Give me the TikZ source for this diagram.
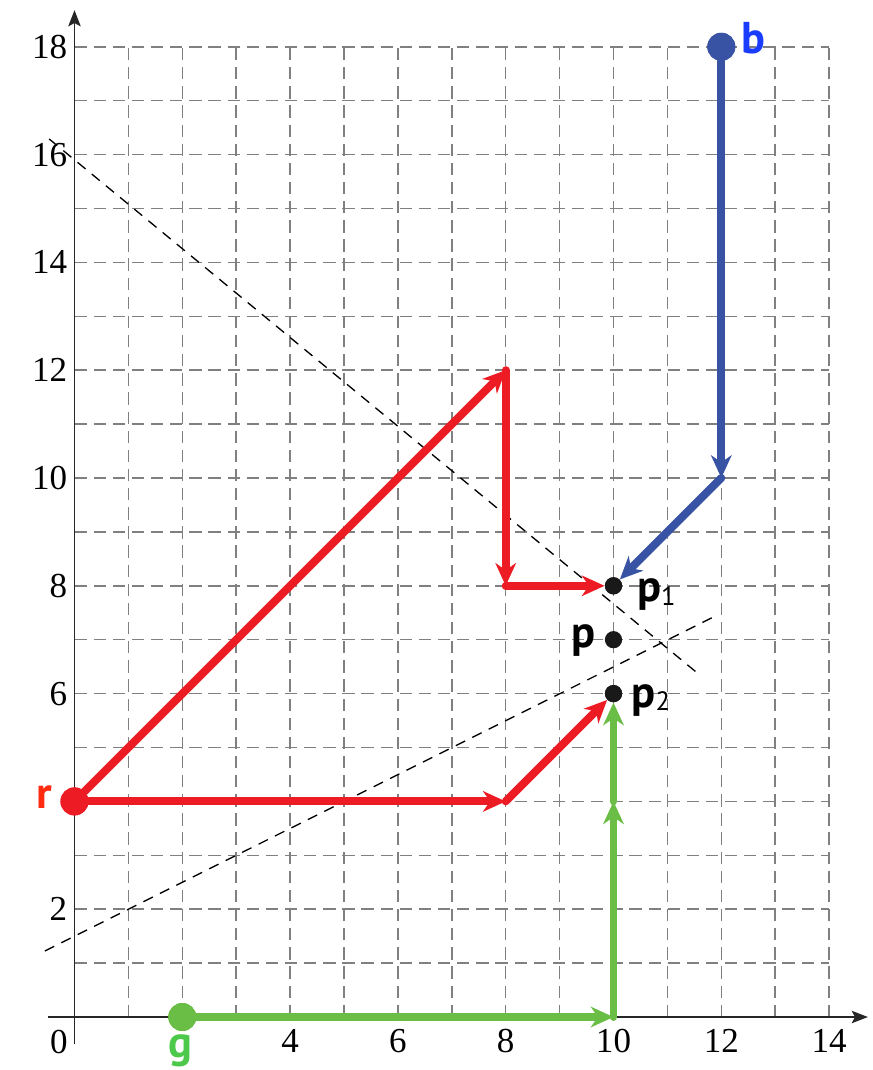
\documentclass[tikz,border=0pt]{standalone}
\usepackage{fontspec}
\setmainfont{Liberation Serif}
\newfontfamily\lblfont{PT Sans}
\usetikzlibrary{arrows.meta}
\definecolor{cred}{HTML}{ED1C24}
\definecolor{cblue}{HTML}{3953A4}
\definecolor{cgreen}{HTML}{6ABD45}
\definecolor{tred}{HTML}{FF2A10}
\definecolor{tblue}{HTML}{1A3CFF}
\definecolor{tgreen}{HTML}{4CC84A}
\definecolor{gridgray}{HTML}{808080}
\newcommand{\lowsub}[1]{\raisebox{-0.08em}{\mdseries\fontsize{14}{14}\selectfont #1}}
\tikzset{
  gridline/.style={draw=gridgray, line width=0.8pt, dash pattern=on 6.5pt off 3.6pt},
  bisect/.style={draw=black, line width=0.7pt, dash pattern=on 5.5pt off 4.2pt},
  axisline/.style={draw=black!85, line width=1pt, -{Stealth[length=3mm,width=2.3mm,inset=0.6mm]}},
  patharrow/.style={line width=4.2pt, line cap=round, -{Stealth[length=4.2mm,width=3.8mm,inset=1.3mm]}},
  bigdot/.style={circle, inner sep=0pt, minimum size=0.52cm},
  smalldot/.style={circle, inner sep=0pt, minimum size=0.32cm, fill=black!90},
  ticklbl/.style={font=\fontsize{18.5}{20}\selectfont, inner sep=0pt},
  ptlbl/.style={font=\lblfont\bfseries\fontsize{23.5}{25}\selectfont, inner sep=0pt},
}
\begin{document}
\begin{tikzpicture}[x=1cm,y=1cm]
\useasboundingbox (-1.382,-0.983) rectangle (14.796,18.868);
% grid
\draw[gridline] (0,0) grid (14,18);
% bisectors
\coordinate (d1a) at (-0.47,16.29);
\coordinate (d1b) at (11.57,6.37);
\coordinate (d2a) at (-0.55,1.225);
\coordinate (d2b) at (11.85,7.42);
\draw[bisect] (d1a) -- (d1b);
\draw[bisect] (d2a) -- (d2b);
% axes
\coordinate (xs) at (-0.5,0);
\coordinate (xe) at (14.72,0);
\coordinate (ys) at (0,-0.5);
\coordinate (ye) at (0,18.68);
\draw[axisline] (xs) -- (xe);
\draw[axisline] (ys) -- (ye);
% tick labels
\foreach \v in {2,6,8,10,12,14,16,18}
  \node[ticklbl, anchor=east] (ty\v) at (-0.13,\v) {\v};
\foreach \v in {4,6,8,10,12,14}
  \node[ticklbl] (tx\v) at (\v,-0.45) {\v};
\node[ticklbl] (t0) at (-0.29,-0.46) {0};
% dots
\node[bigdot, fill=cred] (r) at (0,4) {};
\node[bigdot, fill=cgreen] (g) at (2,0) {};
\node[bigdot, fill=cblue] (b) at (12,18) {};
\node[smalldot] (p1) at (10,8) {};
\node[smalldot] (p) at (10,7) {};
\node[smalldot] (p2) at (10,6) {};
% corners
\coordinate (r1) at (8,12);
\coordinate (r2) at (8,8);
\coordinate (r3) at (8,4);
\coordinate (b1) at (12,10);
\coordinate (g1) at (10,0);
\coordinate (g2) at (10,4);
% red paths
\draw[patharrow, cred] (r) -- (r1);
\draw[patharrow, cred] (r1) -- (r2);
\draw[patharrow, cred] (r2) -- (p1);
\draw[patharrow, cred] (r) -- (r3);
\draw[patharrow, cred] (r3) -- (p2);
% blue paths
\draw[patharrow, cblue] (b) -- (b1);
\draw[patharrow, cblue] (b1) -- (p1);
% green paths
\draw[patharrow, cgreen] (g) -- (g1);
\draw[patharrow, cgreen] (g1) -- (g2);
\draw[patharrow, cgreen] (g2) -- (p2);
% redraw dots on top
\node[bigdot, fill=cred] at (r) {};
\node[bigdot, fill=cgreen] at (g) {};
\node[bigdot, fill=cblue] at (b) {};
\node[smalldot] at (p1) {};
\node[smalldot] at (p2) {};
% labels
\node[ptlbl, text=tred, anchor=base east] (lr) at (-0.4,3.86) {r};
\node[ptlbl, text=tgreen, anchor=base] (lg) at (1.97,-0.76) {g};
\node[ptlbl, text=tblue, anchor=base west] (lb) at (12.37,17.88) {b};
\node[ptlbl, anchor=base west] (lp1) at (10.43,7.70) {p\lowsub{1}};
\node[ptlbl, anchor=base east] (lp) at (9.68,6.86) {p};
\node[ptlbl, anchor=base west] (lp2) at (10.33,5.75) {p\lowsub{2}};
\end{tikzpicture}
\end{document}
